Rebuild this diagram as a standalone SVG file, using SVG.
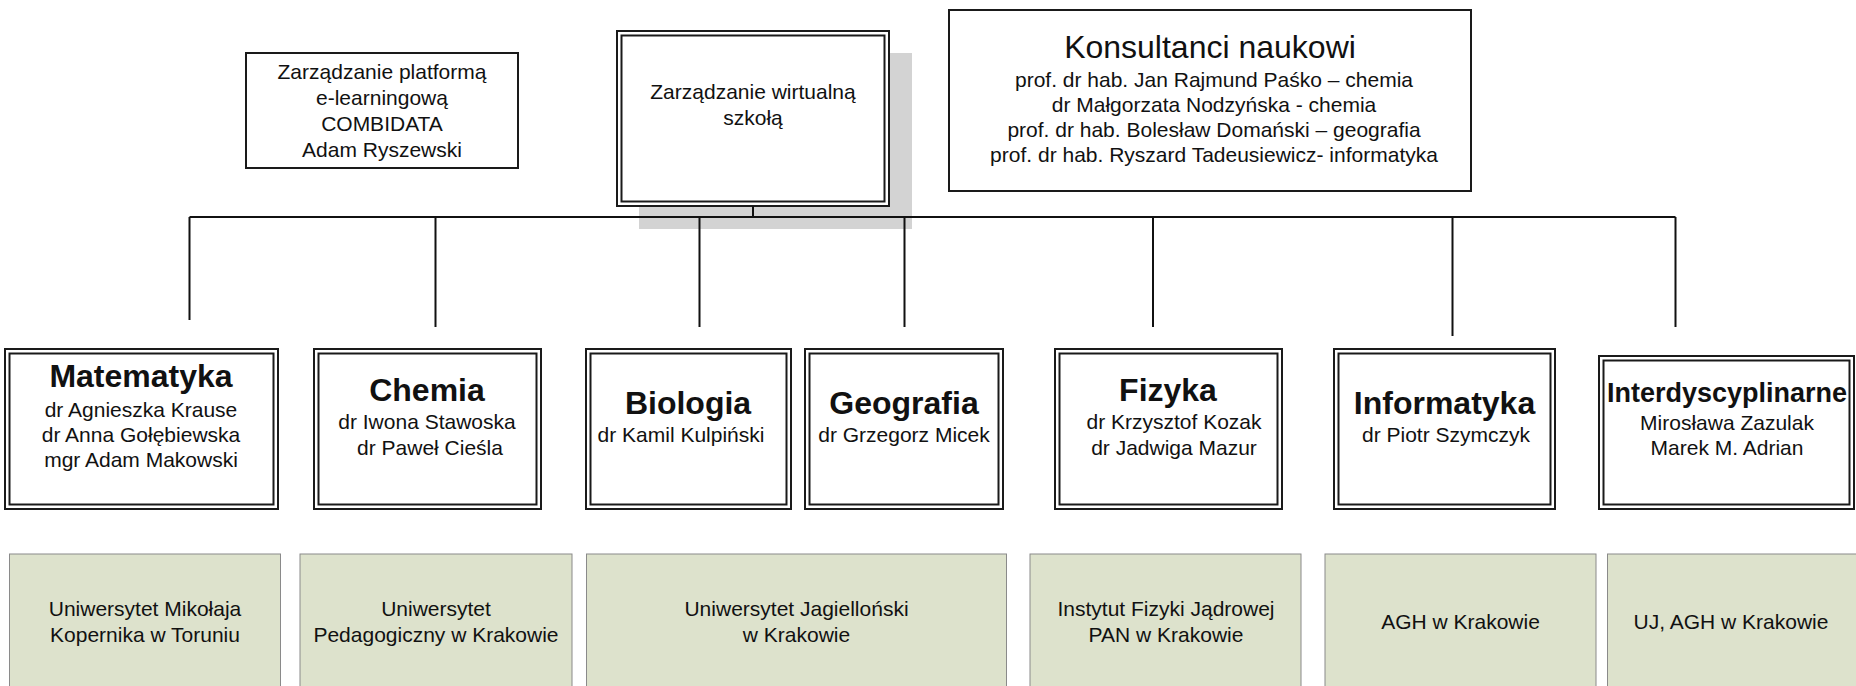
<svg xmlns="http://www.w3.org/2000/svg" width="1856" height="686" viewBox="0 0 1856 686">
<style>
text{font-family:"Liberation Sans",Arial,sans-serif;fill:#111;text-anchor:middle}
.b{font-size:21px}
.t{font-size:32px;font-weight:bold}
.t2{font-size:27px;font-weight:bold}
.k{font-size:32px}
.box{fill:#fff;stroke:#1a1a1a;stroke-width:2}
.in{fill:none;stroke:#1a1a1a;stroke-width:2}
.uni{fill:#dde2cc;stroke:#8a8a8a;stroke-width:1}
.c{stroke:#111;stroke-width:2;fill:none}
</style>
<rect width="1856" height="686" fill="#fff"/>
<g id="platforma">
<rect class="box" x="246" y="53" width="272" height="115"/>
<text class="b" x="382" y="79">Zarządzanie platformą</text>
<text class="b" x="382" y="105">e-learningową</text>
<text class="b" x="382" y="131">COMBIDATA</text>
<text class="b" x="382" y="157">Adam Ryszewski</text>
</g>
<g id="szkola">
<rect x="639" y="53" width="273" height="176" fill="#d3d3d3"/>
<rect class="box" x="617" y="31" width="272" height="175"/>
<rect class="in" x="621.5" y="35.5" width="263" height="166"/>
<text class="b" x="753" y="99">Zarządzanie wirtualną</text>
<text class="b" x="753" y="125">szkołą</text>
</g>
<g id="konsultanci">
<rect class="box" x="949" y="10" width="522" height="181"/>
<text class="k" x="1210" y="58">Konsultanci naukowi</text>
<text class="b" x="1214" y="87">prof. dr hab. Jan Rajmund Paśko – chemia</text>
<text class="b" x="1214" y="112">dr Małgorzata Nodzyńska - chemia</text>
<text class="b" x="1214" y="137">prof. dr hab. Bolesław Domański – geografia</text>
<text class="b" x="1214" y="162">prof. dr hab. Ryszard Tadeusiewicz- informatyka</text>
</g>
<g id="connectors">
<path class="c" d="M753 206V217M189.5 217H1675.5M189.5 217V320M435.5 217V327M699.5 217V327M904.5 217V327M1153 217V327M1452.5 217V336M1675.5 217V327"/>
</g>
<g id="matematyka">
<rect class="box" x="5" y="349" width="273" height="160"/>
<rect class="in" x="9.5" y="353.5" width="264" height="151"/>
<text class="t" x="141" y="387">Matematyka</text>
<text class="b" x="141" y="417">dr Agnieszka Krause</text>
<text class="b" x="141" y="442">dr Anna Gołębiewska</text>
<text class="b" x="141" y="467">mgr Adam Makowski</text>
</g>
<g id="chemia">
<rect class="box" x="314" y="349" width="227" height="160"/>
<rect class="in" x="318.5" y="353.5" width="218" height="151"/>
<text class="t" x="427" y="401">Chemia</text>
<text class="b" x="427" y="429">dr Iwona Stawoska</text>
<text class="b" x="430" y="455">dr Paweł Cieśla</text>
</g>
<g id="biologia">
<rect class="box" x="586" y="349" width="205" height="160"/>
<rect class="in" x="590.5" y="353.5" width="196" height="151"/>
<text class="t" x="688" y="414">Biologia</text>
<text class="b" x="681" y="442">dr Kamil Kulpiński</text>
</g>
<g id="geografia">
<rect class="box" x="805" y="349" width="198" height="160"/>
<rect class="in" x="809.5" y="353.5" width="189" height="151"/>
<text class="t" x="904" y="414">Geografia</text>
<text class="b" x="904" y="442">dr Grzegorz Micek</text>
</g>
<g id="fizyka">
<rect class="box" x="1055" y="349" width="227" height="160"/>
<rect class="in" x="1059.5" y="353.5" width="218" height="151"/>
<text class="t" x="1168" y="401">Fizyka</text>
<text class="b" x="1174" y="429">dr Krzysztof Kozak</text>
<text class="b" x="1174" y="455">dr Jadwiga Mazur</text>
</g>
<g id="informatyka">
<rect class="box" x="1334" y="349" width="221" height="160"/>
<rect class="in" x="1338.5" y="353.5" width="212" height="151"/>
<text class="t" x="1444.5" y="414">Informatyka</text>
<text class="b" x="1446" y="442">dr Piotr Szymczyk</text>
</g>
<g id="interdyscyplinarne">
<rect class="box" x="1599" y="356" width="255" height="153"/>
<rect class="in" x="1603.5" y="360.5" width="246" height="144"/>
<text class="t2" x="1727" y="402">Interdyscyplinarne</text>
<text class="b" x="1727" y="430">Mirosława Zazulak</text>
<text class="b" x="1727" y="455">Marek M. Adrian</text>
</g>
<g id="umk">
<rect class="uni" x="9.5" y="554" width="271" height="150"/>
<text class="b" x="145" y="616">Uniwersytet Mikołaja</text>
<text class="b" x="145" y="642">Kopernika w Toruniu</text>
</g>
<g id="up">
<rect class="uni" x="300" y="554" width="272" height="150"/>
<text class="b" x="436" y="616">Uniwersytet</text>
<text class="b" x="436" y="642">Pedagogiczny w Krakowie</text>
</g>
<g id="uj">
<rect class="uni" x="586.5" y="554" width="420" height="150"/>
<text class="b" x="796.5" y="616">Uniwersytet Jagielloński</text>
<text class="b" x="796.5" y="642">w Krakowie</text>
</g>
<g id="ifj">
<rect class="uni" x="1030" y="554" width="271" height="150"/>
<text class="b" x="1166" y="616">Instytut Fizyki Jądrowej</text>
<text class="b" x="1166" y="642">PAN w Krakowie</text>
</g>
<g id="agh">
<rect class="uni" x="1325" y="554" width="271" height="150"/>
<text class="b" x="1460.5" y="629">AGH w Krakowie</text>
</g>
<g id="ujagh">
<rect class="uni" x="1607.5" y="554" width="260" height="150"/>
<text class="b" x="1731" y="629">UJ, AGH w Krakowie</text>
</g>
</svg>
